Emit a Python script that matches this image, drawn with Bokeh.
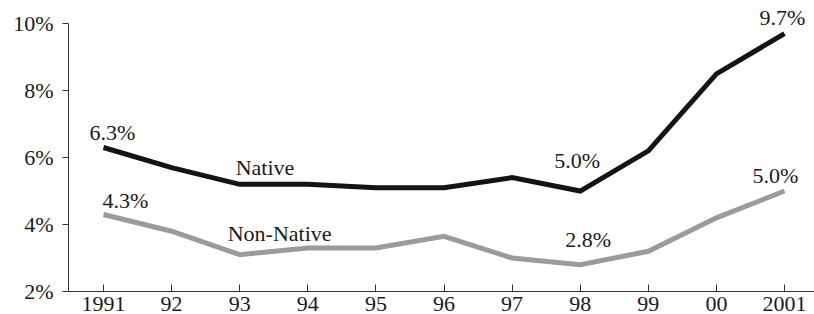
from bokeh.plotting import figure
from bokeh.models import FixedTicker, Range1d
from bokeh.core.properties import value
from bokeh.embed import file_html
from bokeh.resources import INLINE

years = [1991, 1992, 1993, 1994, 1995, 1996, 1997, 1998, 1999, 2000, 2001]
year_labels = ["1991", "92", "93", "94", "95", "96", "97", "98", "99", "00", "2001"]
native = [6.3, 5.7, 5.2, 5.2, 5.1, 5.1, 5.4, 5.0, 6.2, 8.5, 9.7]
non_native = [4.3, 3.8, 3.1, 3.3, 3.3, 3.65, 3.0, 2.8, 3.2, 4.2, 5.0]
y_ticks = [2, 4, 6, 8, 10]
y_tick_labels = ["2%", "4%", "6%", "8%", "10%"]

FONT = "Liberation Serif"
FS = "22px"
TXT = "#1a1a1a"

p = figure(width=814, height=314, output_backend="svg", toolbar_location=None,
           x_range=Range1d(1990.486, 2001.44), y_range=Range1d(2, 10.69),
           min_border_left=68, min_border_right=0, min_border_top=0, min_border_bottom=23)
p.outline_line_color = None
p.xgrid.visible = False
p.ygrid.visible = False
p.background_fill_color = "white"
p.border_fill_color = "white"

p.line(years, native, line_color="#141414", line_width=5, line_join="miter")
p.line(years, non_native, line_color="#9b9b9b", line_width=5, line_join="miter")

def label(txt, x, y, dx, dy, align="center"):
    p.text(x=[x], y=[y], text=[txt], x_offset=dx, y_offset=dy,
           text_font=value(FONT), text_font_size=FS, text_color=TXT,
           text_align=align, text_baseline="alphabetic")

label(f"{native[0]:.1f}%", years[0], native[0], 9, -15)
label(f"{non_native[0]:.1f}%", years[0], non_native[0], 22, -14)
label("Native", years[2], native[2], -4, -17, "left")
label("Non-Native", years[2], non_native[2], -12, -21, "left")
label(f"{native[7]:.1f}%", years[7], native[7], -3, -31)
label(f"{non_native[7]:.1f}%", years[7], non_native[7], 8, -25)
label(f"{native[10]:.1f}%", years[10], native[10], -2, -16)
label(f"{non_native[10]:.1f}%", years[10], non_native[10], -9, -16)

xa = p.xaxis[0]
xa.ticker = FixedTicker(ticks=years)
xa.major_label_overrides = {y: l for y, l in zip(years, year_labels)}
xa.major_tick_in = 7
xa.major_tick_out = 0
xa.minor_tick_line_color = None
xa.major_label_standoff = 5
xa.axis_line_color = "#333333"
xa.major_tick_line_color = "#333333"
xa.major_label_text_font = FONT
xa.major_label_text_font_size = FS
xa.major_label_text_color = TXT

ya = p.yaxis[0]
ya.ticker = FixedTicker(ticks=y_ticks)
ya.bounds = (2, 10)
ya.major_label_overrides = {t: l for t, l in zip(y_ticks, y_tick_labels)}
ya.major_tick_in = 0
ya.major_tick_out = 6
ya.minor_tick_line_color = None
ya.major_label_standoff = 9
ya.axis_line_color = "#333333"
ya.major_tick_line_color = "#333333"
ya.major_label_text_font = FONT
ya.major_label_text_font_size = FS
ya.major_label_text_color = TXT

open("out.html", "w").write(file_html(p, INLINE))
